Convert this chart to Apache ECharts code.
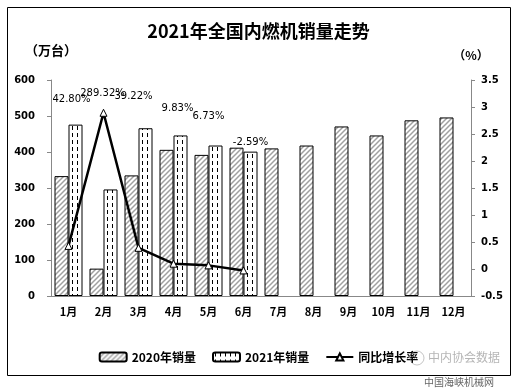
<!DOCTYPE html>
<html>
<head>
<meta charset="utf-8">
<script src="https://cdn.jsdelivr.net/npm/echarts@6/dist/echarts.min.js"></script>
<style>html,body{margin:0;padding:0;background:#fff;}#c{width:517px;height:389px;}</style>
</head>
<body>
<div id="c"></div>
<script>
const months = ['1月','2月','3月','4月','5月','6月','7月','8月','9月','10月','11月','12月'];
const sales2020 = [333, 76, 335, 406, 392, 412, 410, 418, 471, 446, 488, 496];
const sales2021 = [476, 296, 466, 446, 418, 401, null, null, null, null, null, null];
const growthRate = [0.428, 2.8932, 0.3922, 0.0983, 0.0673, -0.0259];
const growthLabels = ['42.80%', '289.32%', '39.22%', '9.83%', '6.73%', '-2.59%'];
const leftTicks = {min: 0, max: 600, interval: 100};
const rightTicks = {min: -0.5, max: 3.5, interval: 0.5};

// label offsets (styling only)
const labelOffsets = [[3,-146],[-1,-19],[-5,-151],[4,-155],[0,-149],[7,-128]];

function hatch() {
  const c = document.createElement('canvas'); c.width = 5; c.height = 5;
  const g = c.getContext('2d');
  g.fillStyle = '#fff'; g.fillRect(0,0,5,5);
  g.strokeStyle = '#a0a0a0'; g.lineWidth = 1.5;
  g.beginPath();
  g.moveTo(-1,6); g.lineTo(6,-1);
  g.moveTo(-1,1); g.lineTo(1,-1);
  g.moveTo(4,6); g.lineTo(6,4);
  g.stroke();
  return {image: c, repeat: 'repeat'};
}
function dashes() {
  const c = document.createElement('canvas'); c.width = 5; c.height = 7;
  const g = c.getContext('2d');
  g.fillStyle = '#fff'; g.fillRect(0,0,5,7);
  g.fillStyle = '#000'; g.fillRect(2,0,1,4);
  return {image: c, repeat: 'repeat'};
}

const chart = echarts.init(document.getElementById('c'));
const bold = {fontFamily: 'DejaVu Sans, sans-serif', fontWeight: 'bold', fontSize: 10, color: '#000'};
chart.setOption({
  animation: false,
  backgroundColor: '#fff',
  title: {
    text: '2021年全国内燃机销量走势', left: 'center', top: 17,
    textStyle: {fontFamily: 'Noto Sans CJK SC', fontWeight: 'bold', fontSize: 18, color: '#000'}
  },
  grid: {left: 51, right: 46, top: 80, bottom: 93},
  legend: {
    bottom: 21, left: 'center', itemWidth: 27, itemHeight: 9, itemGap: 16,
    textStyle: {fontFamily: 'Noto Sans CJK SC', fontWeight: 'bold', fontSize: 12, color: '#000'},
    data: ['2020年销量', '2021年销量', '同比增长率']
  },
  xAxis: {
    type: 'category', data: months,
    axisLine: {lineStyle: {color: '#888'}},
    axisTick: {inside: true, length: 3, lineStyle: {color: '#888'}},
    axisLabel: {fontFamily: 'Noto Sans CJK SC', fontWeight: 'bold', fontSize: 11, color: '#000', margin: 10}
  },
  yAxis: [
    {
      type: 'value', min: leftTicks.min, max: leftTicks.max, interval: leftTicks.interval,
      name: '（万台）', nameLocation: 'end', nameGap: 23,
      nameTextStyle: {fontFamily: 'Noto Sans CJK SC', fontWeight: 'bold', fontSize: 13, color: '#000', align: 'center', padding: [0, 0, 0, 0]},
      axisLine: {show: true, lineStyle: {color: '#888'}},
      axisTick: {show: true, length: 4, lineStyle: {color: '#888'}},
      splitLine: {show: false},
      axisLabel: Object.assign({margin: 16}, bold)
    },
    {
      type: 'value', min: rightTicks.min, max: rightTicks.max, interval: rightTicks.interval,
      name: '（%）', nameLocation: 'end', nameGap: 19,
      nameTextStyle: {fontFamily: 'Noto Sans CJK SC', fontWeight: 'bold', fontSize: 12, color: '#000', padding: [0, 0, 0, 0]},
      axisLine: {show: true, lineStyle: {color: '#888'}},
      axisTick: {show: true, length: 4, lineStyle: {color: '#888'}},
      splitLine: {show: false},
      axisLabel: Object.assign({margin: 10}, bold)
    }
  ],
  series: [
    {
      name: '2020年销量', type: 'bar', data: sales2020, barWidth: 14, barGap: '0%',
      itemStyle: {color: hatch(), borderColor: '#000', borderWidth: 1}
    },
    {
      name: '2021年销量', type: 'bar', data: sales2021, barWidth: 14, barGap: '0%',
      itemStyle: {color: dashes(), borderColor: '#000', borderWidth: 1}
    },
    {
      name: '同比增长率', type: 'line', yAxisIndex: 1,
      data: growthRate.map((v, i) => ({
        value: v,
        label: {show: true, formatter: growthLabels[i], offset: labelOffsets[i]}
      })),
      symbol: 'triangle', symbolSize: 7, showAllSymbol: true,
      lineStyle: {color: '#000', width: 2.5},
      itemStyle: {color: '#fff', borderColor: '#000', borderWidth: 1},
      label: {position: 'inside', fontFamily: 'DejaVu Sans, sans-serif', fontSize: 10, color: '#000'},
      z: 5
    }
  ],
  graphic: [
    {type: 'rect', shape: {x: 7.5, y: 7.5, width: 503, height: 368}, style: {fill: null, stroke: '#000', lineWidth: 1}, z: 100},
    {type: 'circle', shape: {cx: 417, cy: 358, r: 7}, style: {fill: null, stroke: 'rgba(140,140,140,0.5)', lineWidth: 1}, z: 101},
    {type: 'text', left: 428, top: 351, style: {text: '中内协会数据', fill: 'rgba(120,120,120,0.55)', font: '12px "Noto Sans CJK SC"'}, z: 101},
    {type: 'text', left: 424, top: 377, style: {text: '中国海峡机械网', fill: '#666', font: '10px "Noto Sans CJK SC"'}, z: 101}
  ]
});
</script>
</body>
</html>
